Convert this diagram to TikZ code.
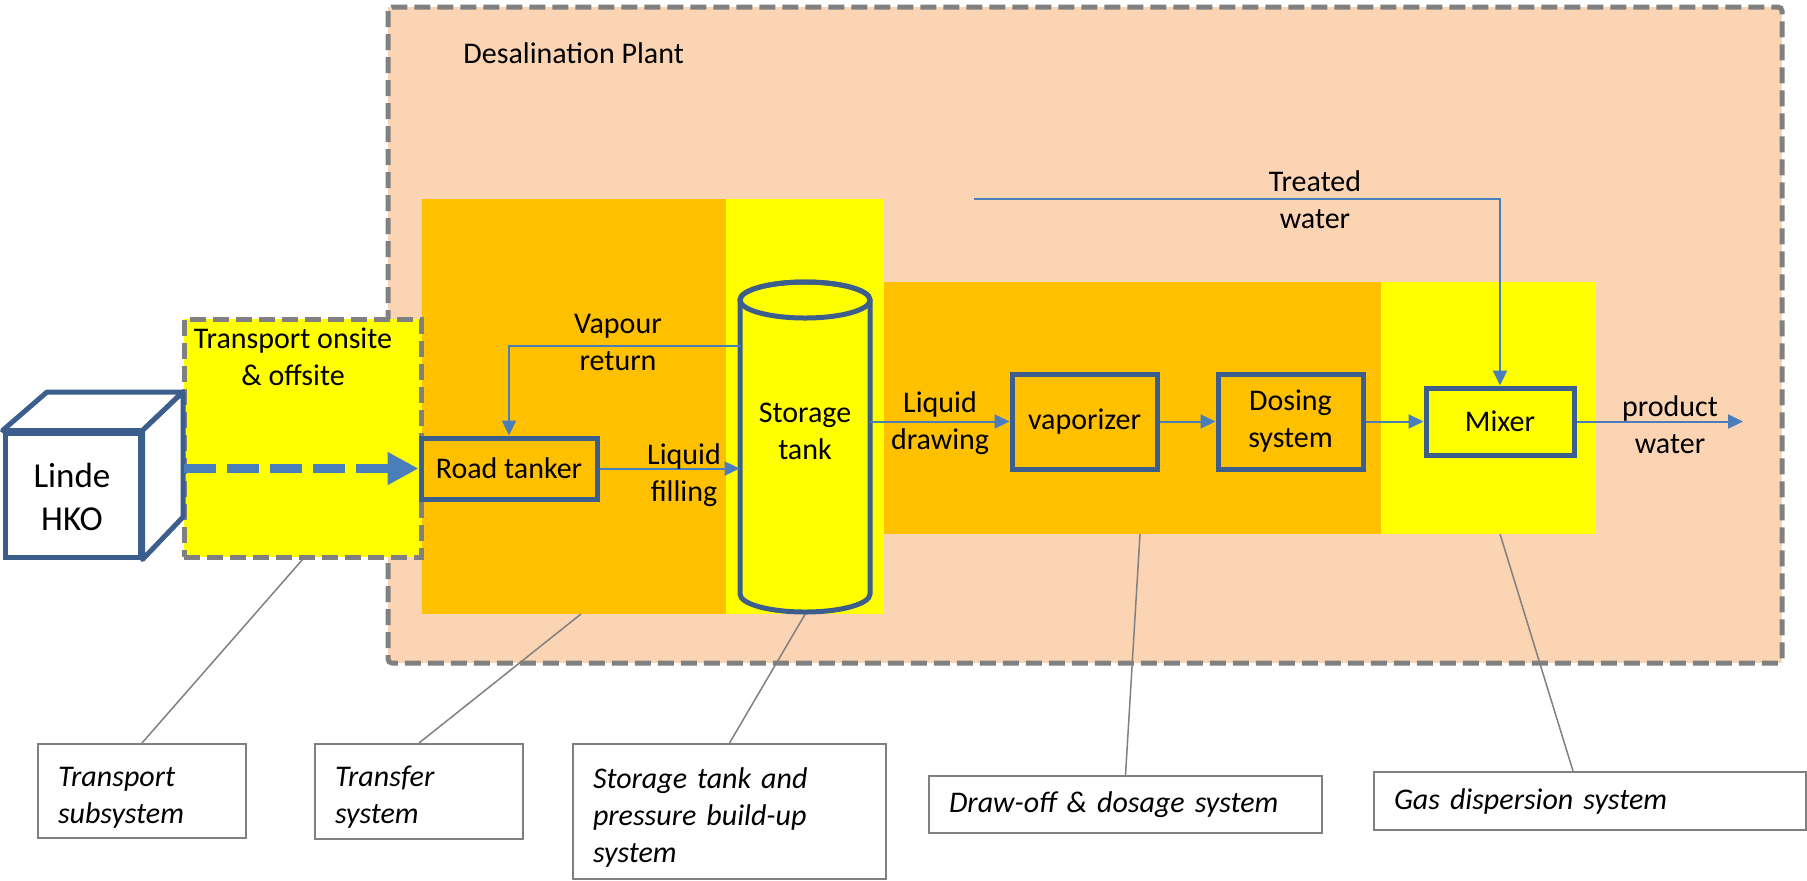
\documentclass[tikz,border=0pt]{standalone}
\usepackage{fontspec}
\setmainfont{Carlito}
\usetikzlibrary{arrows.meta,fit}
\definecolor{peach}{HTML}{FBD4B4}
\definecolor{orng}{HTML}{FFC000}
\definecolor{yel}{HTML}{FFFF00}
\definecolor{dblue}{HTML}{3B5E8C}
\definecolor{ablue}{HTML}{4A7EBB}
\definecolor{dgray}{HTML}{808080}
\begin{document}
\begin{tikzpicture}[x=0.5pt,y=-0.5pt,
  txt/.style={font=\fontsize{15}{18.5}\selectfont, align=center, inner sep=0},
  zone/.style={inner sep=0, draw=none},
  procbox/.style={draw=dblue, line width=2.5pt, inner sep=0},
  flow/.style={draw=ablue, line width=1pt, -{Triangle[length=7.5pt,width=7pt]}},
  plantborder/.style={draw=dgray, line width=2.5pt, dash pattern=on 8pt off 3.5pt, rounded corners=2pt},
  lead/.style={draw=dgray, line width=0.75pt},
  callout/.style={draw=dgray, line width=1pt, fill=white, inner xsep=10pt, inner ysep=0pt, align=left, anchor=north west, font=\fontsize{15}{18.5}\selectfont\itshape},
  lowered/.style={execute at begin node={\rule{0pt}{16pt}}}
]
\useasboundingbox (0,0) rectangle (1807,880);

% Desalination plant area
\node[fit={(388,7)(1782,663)}, inner sep=0, fill=peach] (plant) {};
\node[txt, anchor=west] (plantlbl) at (463,53) {Desalination Plant};

% sub-system zones
\node[zone, fit={(422,199)(726,614)}, fill=orng] (z1) {};
\node[zone, fit={(726,199)(884,614)}, fill=yel] (z2) {};
\node[zone, fit={(884,282)(1381,534)}, fill=orng] (z3) {};
\node[zone, fit={(1381,282)(1596,534)}, fill=yel] (z4) {};

\path[plantborder] (388,7) rectangle (1782,663);

% transport box
\node[fit={(184,319)(421,557)}, inner sep=0, fill=yel, draw=dgray, line width=2.5pt, dash pattern=on 8pt off 3.5pt] (transport) {};
\node[txt] (translbl) at (293,357) {Transport onsite\\\& offsite};

% Linde HKO cube
\node[fit={(5,433)(140,557)}, inner sep=0, fill=white, draw=dblue, line width=2.5pt] (linde) {};
\node[font=\fontsize{17.5}{21.5}\selectfont, align=center, inner sep=0] (lindelbl) at (72,497) {Linde\\HKO};
\coordinate (cbtl) at (47,392);
\coordinate (cbtr) at (183,392);
\coordinate (cbbr) at (183,517);
\path[fill=white, draw=dblue, line width=2.5pt, line join=round]
  (linde.north west) -- (cbtl) -- (cbtr) -- (linde.north east) -- cycle;
\path[fill=white, draw=dblue, line width=2.5pt, line join=round]
  (linde.north east) -- (cbtr) -- (cbbr) -- (linde.south east) -- cycle;

% process boxes
\node[procbox, fit={(421,438)(597,499)}] (tanker) {};
\node[txt] at (tanker.center) {Road tanker};
\node[procbox, fit={(1012,374)(1157,469)}] (vap) {};
\node[txt] at (vap.center) {vaporizer};
\node[procbox, fit={(1218,374)(1363,469)}] (dose) {};
\node[txt] at (dose.center) {Dosing\\system};
\node[procbox, fit={(1426,388)(1574,455)}, fill=yel] (mixer) {};
\node[txt] at (mixer.center) {Mixer};

% storage tank (cylinder)
\node[fit={(740,282)(870,612)}, inner sep=0] (tank) {};
\path[fill=yel, draw=dblue, line width=2.5pt]
  (740,300) -- (740,594) arc[start angle=180, end angle=360, x radius=32.5pt, y radius=9pt]
  -- (870,300) arc[start angle=0, end angle=180, x radius=32.5pt, y radius=9pt] -- cycle;
\draw[dblue, line width=2.5pt] (805,300) ellipse[x radius=32.5pt, y radius=9pt];
\node[txt] (tanklbl) at (805,431) {Storage\\tank};

% thick dashed transport arrow
\coordinate (dstart) at (184,468.5);
\draw[ablue, line width=4.75pt, dash pattern=on 16pt off 5.5pt,
      -{Triangle[length=15.5pt,width=15.5pt]}] (dstart) -- (tanker.west);

% flows
\coordinate (vr) at (741,346);
\draw[flow] (vr) -| (tanker.north);
\node[txt] (vrlbl) at (618,342) {Vapour\\return};

\draw[flow] (tanker.east) -- (tanker.east -| tank.west);
\node[txt] (lflbl) at (684,475) {Liquid\\filling};

\draw[flow] (vap.west -| tank.east) -- (vap.west);
\node[txt] (ldlbl) at (940,423) {Liquid\\drawing};

\draw[flow] (vap) -- (dose);
\draw[flow] (dose) -- (mixer);

\coordinate (tw) at (974,199);
\draw[flow] (tw) -| (mixer.north);
\node[txt] (twlbl) at (1315,200) {Treated\\water};

\coordinate (pw) at (1743,421.5);
\draw[flow] (mixer) -- (pw);
\node[txt] (pwlbl) at (1670,425) {product\\water};

% callouts
\node[callout, lowered, text width=84pt, minimum height=47pt] (c1) at (37,743) {Transport\\subsystem};
\node[callout, lowered, text width=84pt, minimum height=47.5pt] (c2) at (314,743) {Transfer\\system};
\node[callout, lowered, text width=136.5pt, minimum height=67.5pt] (c3) at (572,743) {Storage tank and\\pressure build-up\\system};
\node[callout, text width=176.5pt, minimum height=28.5pt] (c4) at (928,775) {Draw-off \& dosage system};
\node[callout, text width=196pt, minimum height=29pt] (c5) at (1373,771) {Gas dispersion system};

% leader lines
\coordinate (e2) at (581,614);
\coordinate (e4) at (1140,534);
\coordinate (e5) at (1500,534);
\coordinate (s5) at (1573,771);
\draw[lead] (c1.north) -- (transport.south);
\draw[lead] (c2.north) -- (e2);
\draw[lead] (c3.north) -- (z2.south);
\draw[lead] (c4.north) -- (e4);
\draw[lead] (s5) -- (e5);
\end{tikzpicture}
\end{document}
